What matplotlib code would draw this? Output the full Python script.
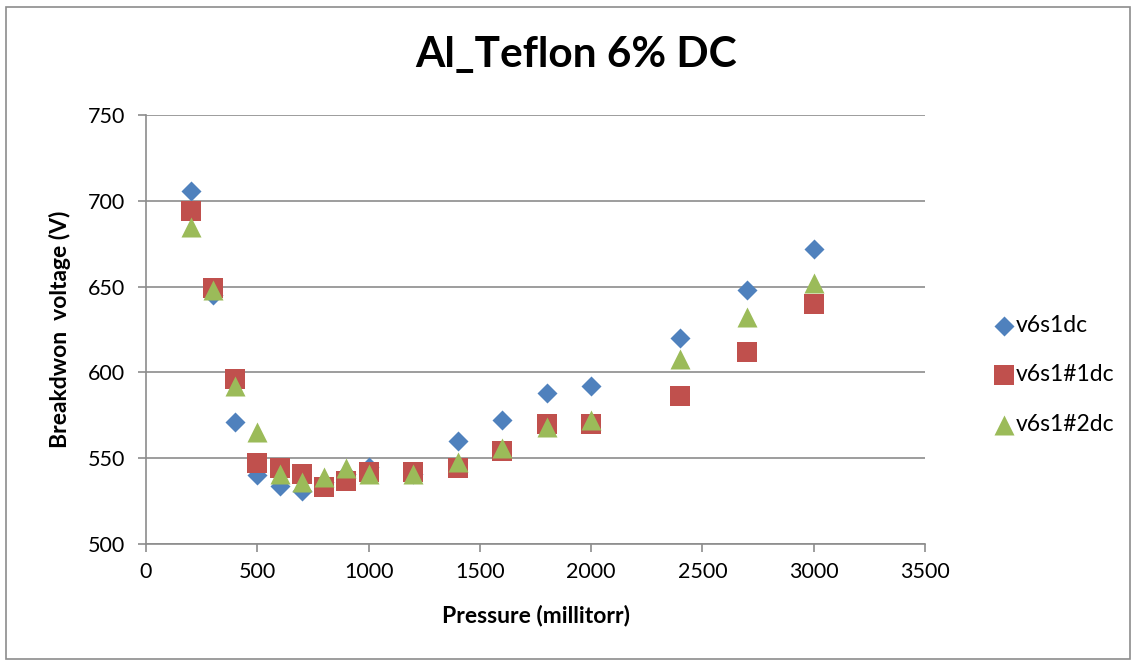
import matplotlib
matplotlib.use("Agg")
import matplotlib.pyplot as plt
from matplotlib.patches import Rectangle

plt.rcParams['font.family'] = ['Lato', 'DejaVu Sans']

pressure = [200, 300, 400, 500, 600, 700, 800, 900, 1000, 1200, 1400, 1600, 1800, 2000, 2400, 2700, 3000]
v6s1dc = [706, 645, 571, 540, 534, 531, 536, 541, 545, 541, 560, 572, 588, 592, 620, 648, 672]
v6s1_1dc = [694, 649, 596, 547, 544, 541, 533, 537, 542, 542, 544, 554, 570, 570, 586, 612, 640]
v6s1_2dc = [685, 648, 592, 565, 541, 536, 539, 544, 541, 541, 548, 556, 568, 572, 608, 632, 652]

series_names = ["v6s1dc", "v6s1#1dc", "v6s1#2dc"]
x_ticks = [0, 500, 1000, 1500, 2000, 2500, 3000, 3500]
y_ticks = [500, 550, 600, 650, 700, 750]

fig = plt.figure(figsize=(11.38, 6.65), dpi=100)
ax = fig.add_axes([146/1138, 1 - 544/665, (925-146)/1138, (544-115)/665])

ax.scatter(pressure, v6s1dc, marker='D', s=10.2**2, color='#4F81BD', label=series_names[0], zorder=3, linewidths=0)
ax.scatter(pressure, v6s1_1dc, marker='s', s=14.4**2, color='#C0504D', label=series_names[1], zorder=4, linewidths=0)
ax.scatter(pressure, v6s1_2dc, marker='^', s=14.4**2, color='#9BBB59', label=series_names[2], zorder=5, linewidths=0)

ax.set_xlim(0, 3500)
ax.set_ylim(500, 750)
ax.set_xticks(x_ticks)
ax.set_yticks(y_ticks)
ax.yaxis.grid(True, color='#8C8C8C', linewidth=1.2)
ax.set_axisbelow(True)
for s in ['top', 'right']:
    ax.spines[s].set_visible(False)
for s in ['left', 'bottom']:
    ax.spines[s].set_color('#8C8C8C')
    ax.spines[s].set_linewidth(1.2)
ax.tick_params(axis='both', colors='#8C8C8C', labelcolor='black', labelsize=15.5, length=6, width=1.2)
ax.tick_params(axis='x', pad=7)
ax.tick_params(axis='y', pad=9)

ax.set_xlabel("Pressure (millitorr)", fontsize=16.5, fontweight='bold', labelpad=16)
ax.set_ylabel("Breakdwon  voltage (V)", fontsize=16.5, fontweight='bold', labelpad=12)
fig.text(576/1138, 1 - 55/665, "Al_Teflon 6% DC", fontsize=30.5, fontweight='bold', ha='center', va='center')

leg = fig.legend(loc='center left', bbox_to_anchor=(983/1138, 1 - 375/665), frameon=False,
                 fontsize=16.5, handletextpad=0.05, labelspacing=1.25, handlelength=1.0, borderaxespad=0)

fig.patches.append(Rectangle((6/1138, 6/665), 1124/1138, 652/665, transform=fig.transFigure,
                             fill=False, edgecolor='#8C8C8C', linewidth=1.2))

fig.savefig("out.png", dpi=100)
